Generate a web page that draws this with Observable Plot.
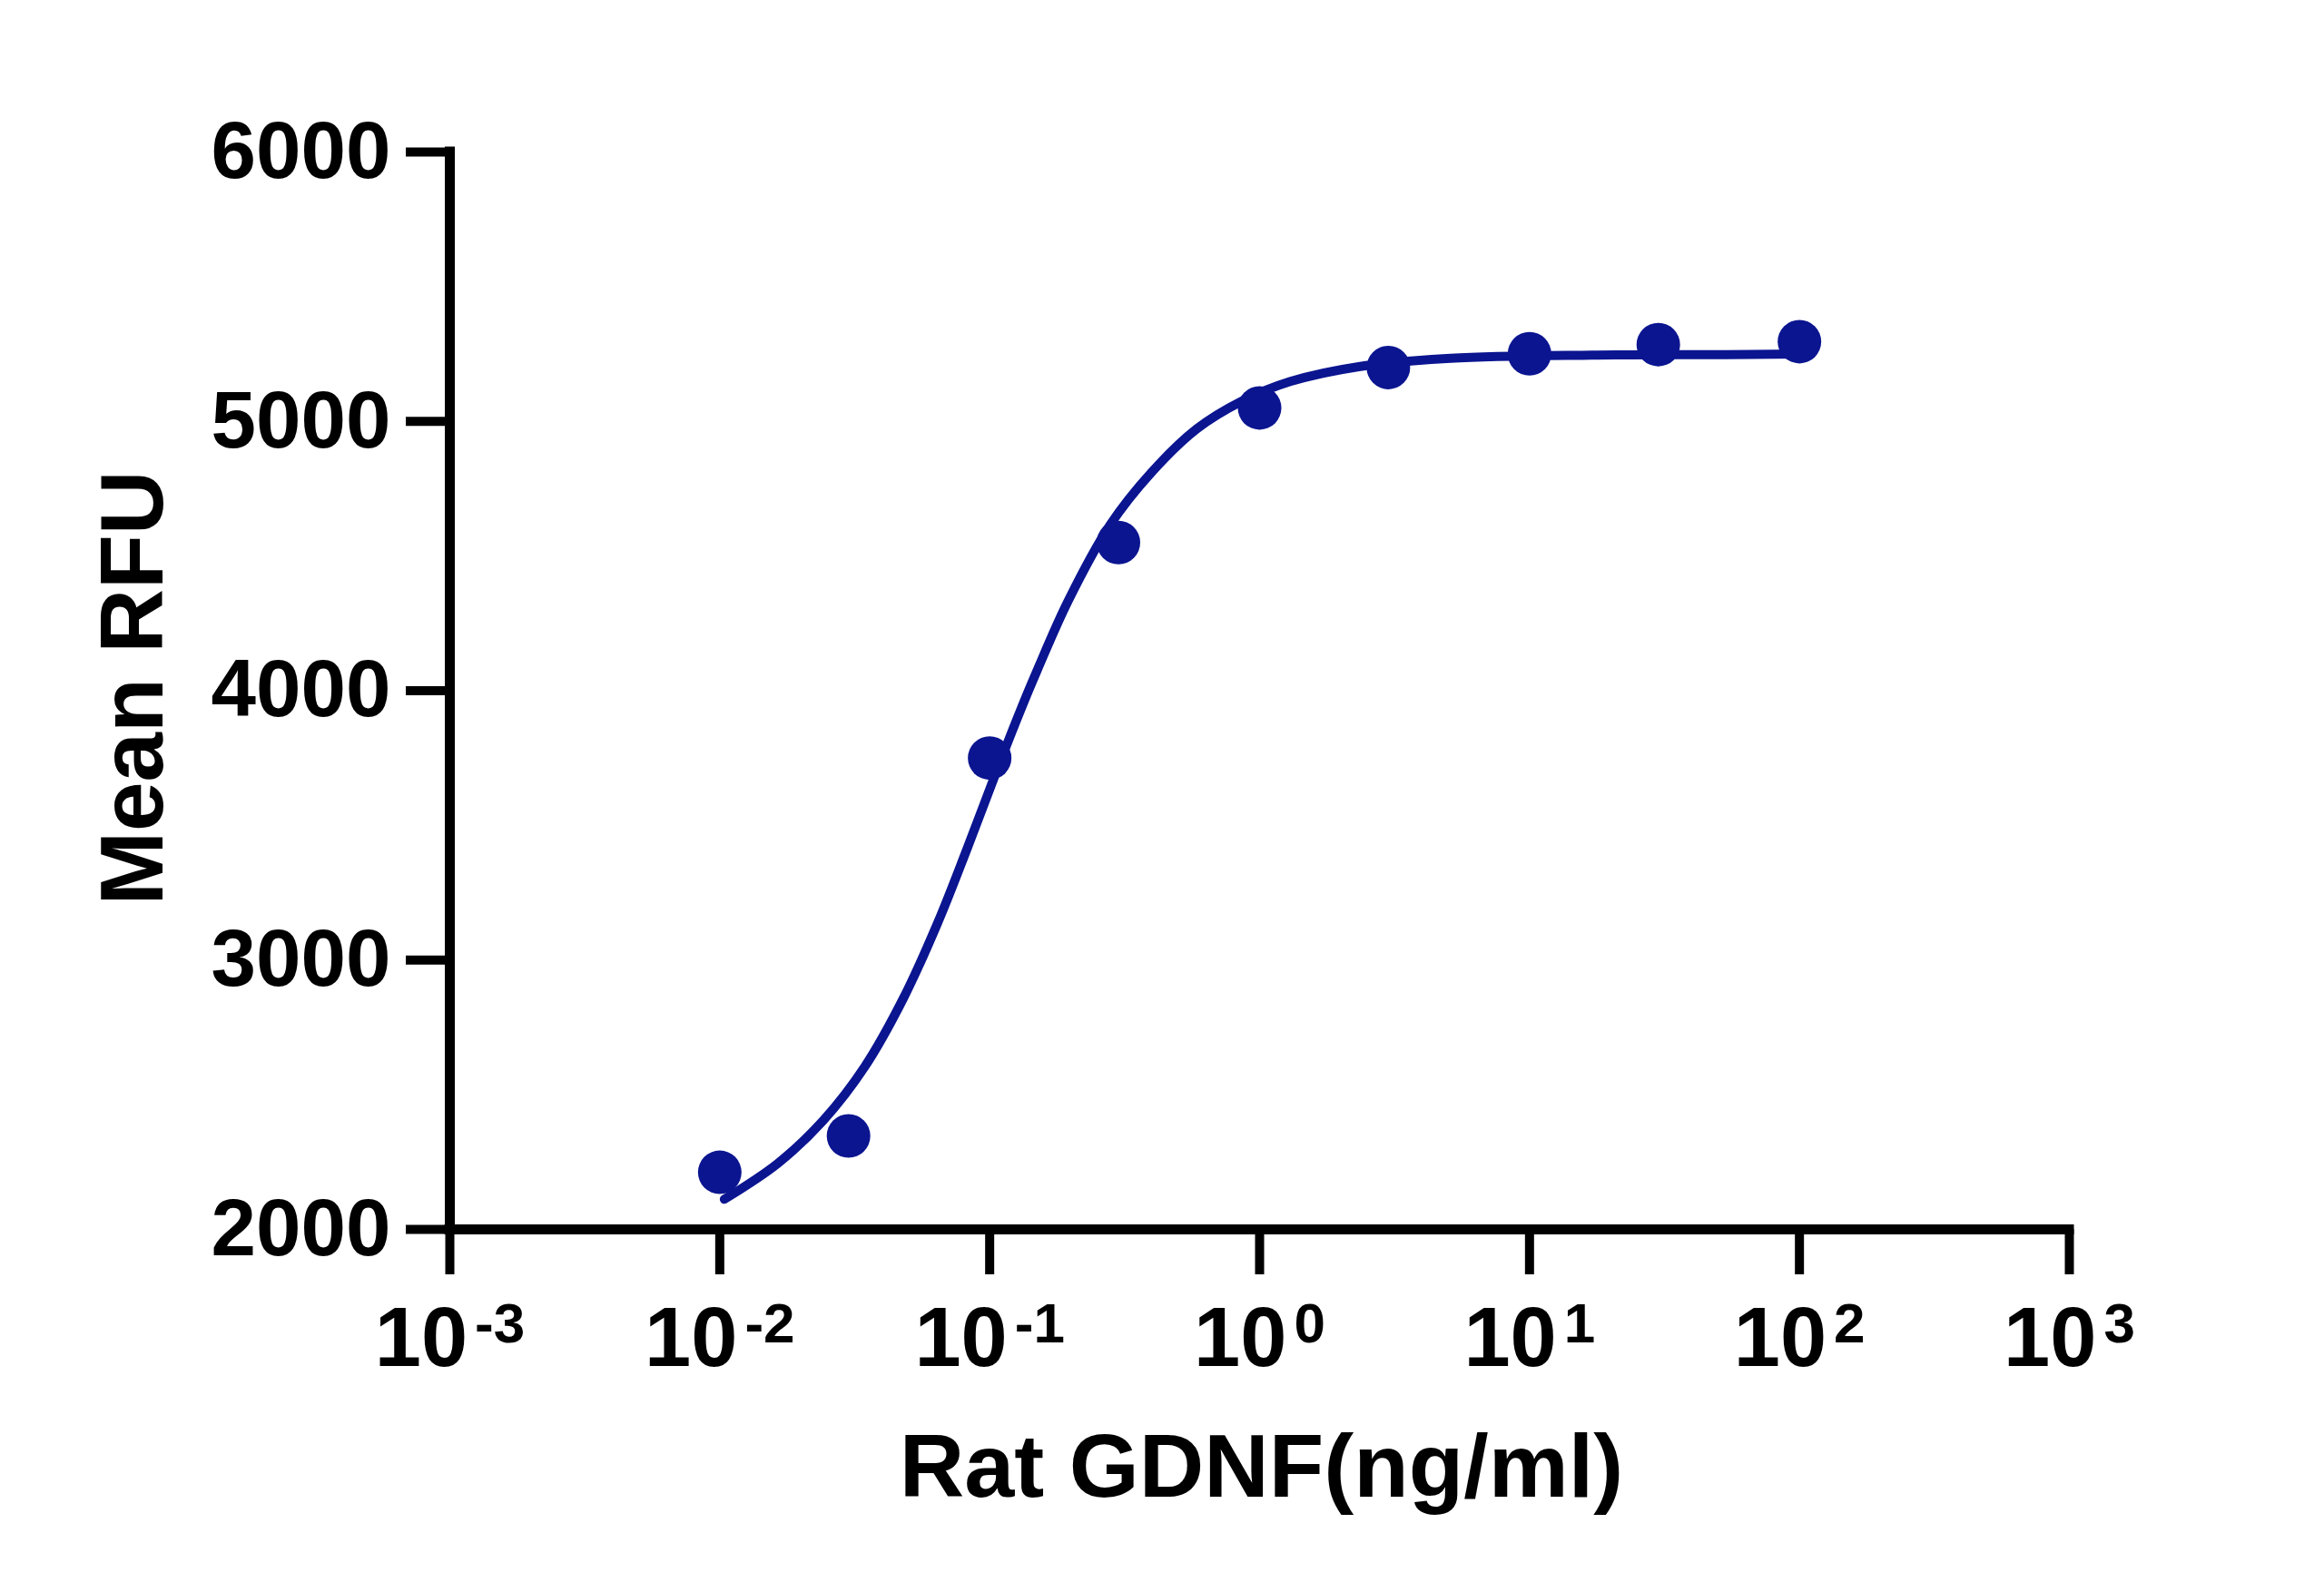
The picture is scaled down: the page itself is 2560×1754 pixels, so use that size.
<!DOCTYPE html>
<html>
<head>
<meta charset="utf-8">
<script src="https://cdn.jsdelivr.net/npm/d3@7"></script>
<script src="https://cdn.jsdelivr.net/npm/@observablehq/plot@0.6"></script>
<style>
  html, body { margin: 0; padding: 0; background: #fff; }
  #chart { width: 2560px; height: 1754px; }
</style>
</head>
<body>
<div id="chart"></div>
<script>
// Measured points
const conc = [0.01, 0.03, 0.1, 0.3, 1, 3, 10, 30, 100];
const rfu = [2212, 2347, 3750, 4550, 5050, 5200, 5251, 5285, 5296];

// Fitted curve
const fitConc = [0.0104, 0.0164, 0.0242, 0.0345, 0.0479, 0.0643, 0.0826, 0.111, 0.131, 0.150, 0.195, 0.279, 0.398, 0.585, 0.859, 1.30, 2.36, 5.1, 17, 53, 100];
const fitRfu = [2112, 2245, 2405, 2605, 2858, 3140, 3415, 3753, 3935, 4076, 4332, 4615, 4811, 4972, 5075, 5148, 5204, 5234, 5246, 5248, 5250];

// Axis ticks
const xTicks = [1e-3, 1e-2, 1e-1, 1e0, 1e1, 1e2, 1e3];
const xTickExp = ["-3", "-2", "-1", "0", "1", "2", "3"];
const yTicks = [2000, 3000, 4000, 5000, 6000];

const xTitle = "Rat GDNF(ng/ml)";
const yTitle = "Mean RFU";

const points = conc.map((c, i) => ({c, v: rfu[i]}));
const fit = fitConc.map((c, i) => ({c, v: fitRfu[i]}));

const navy = "#0b1590";

const svg = Plot.plot({
  width: 2560,
  height: 1754,
  marginLeft: 495,
  marginRight: 281,
  marginTop: 167,
  marginBottom: 400,
  style: "font-family: 'Liberation Sans', Arial, sans-serif; font-weight: bold; color: black; background: white;",
  x: {type: "log", domain: [1e-3, 1e3]},
  y: {domain: [2000, 6000]},
  marks: [
    Plot.axisY({
      ticks: yTicks, tickFormat: d => String(d),
      tickSize: 48, tickPadding: 17, strokeWidth: 10,
      fontSize: 89, fontWeight: "bold", label: null
    }),
    Plot.axisX({
      ticks: xTicks, tickFormat: d => "10^" + xTickExp[xTicks.indexOf(d)],
      tickSize: 50, tickPadding: 35, strokeWidth: 10,
      fontSize: 92, fontWeight: "bold", label: null
    }),
    Plot.ruleX([1e-3], {y1: 2000, y2: 6000, strokeWidth: 11, strokeLinecap: "square"}),
    Plot.ruleY([2000], {x1: 1e-3, x2: 1e3, strokeWidth: 11, strokeLinecap: "square"}),
    Plot.line(fit, {x: "c", y: "v", stroke: navy, strokeWidth: 10, curve: "catmull-rom"}),
    Plot.dot(points, {x: "c", y: "v", r: 24, fill: navy, stroke: "none"}),
    Plot.text([xTitle], {text: d => d, frameAnchor: "bottom", textAnchor: "middle", lineAnchor: "bottom",
      dy: 294, dx: 2, fontSize: 99, fontWeight: "bold", fill: "black"}),
    Plot.text([yTitle], {text: d => d, frameAnchor: "left", textAnchor: "middle", lineAnchor: "bottom",
      rotate: -90, dx: -317, dy: -3, fontSize: 98, fontWeight: "bold", fill: "black"})
  ]
});

// Superscript exponents on the x tick labels
d3.select(svg).selectAll('g[aria-label="x-axis tick label"] text').each(function () {
  const s = this.textContent;
  const parts = s.split("^");
  if (parts.length !== 2) return;
  const t = d3.select(this);
  t.text(null);
  t.append("tspan").text(parts[0]);
  t.append("tspan").attr("dx", 8).attr("dy", -26).attr("font-size", 62).text(parts[1]);
});

document.getElementById("chart").appendChild(svg);
</script>
</body>
</html>
